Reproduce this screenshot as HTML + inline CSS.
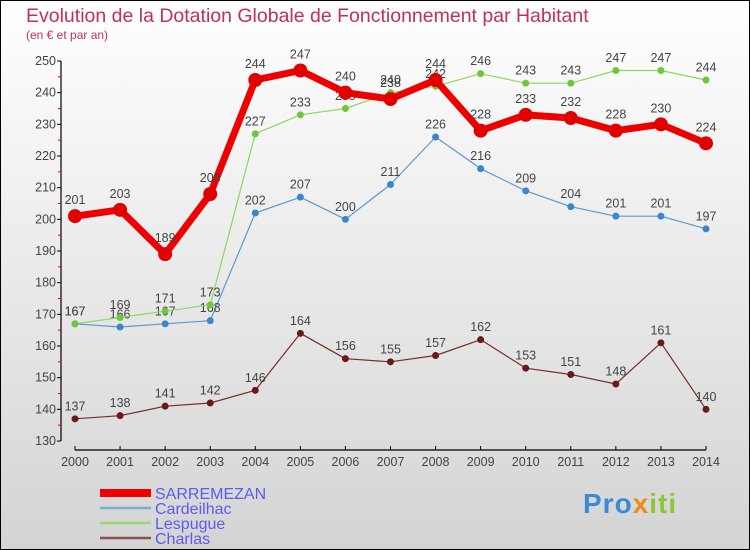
<!DOCTYPE html>
<html><head><meta charset="utf-8"><style>
html,body{margin:0;padding:0}
body{width:750px;height:550px;overflow:hidden;font-family:"Liberation Sans",sans-serif}
svg{display:block}
</style></head><body>
<svg id="chart" width="750" height="550" xmlns="http://www.w3.org/2000/svg">
<defs><linearGradient id="bg" x1="0" y1="0" x2="0" y2="1"><stop offset="0" stop-color="#ffffff"/><stop offset="1" stop-color="#d4d4d4"/></linearGradient></defs>
<rect x="0.5" y="0.5" width="749" height="549" fill="url(#bg)" stroke="#000"/>
<text x="26" y="22" font-size="19.5" fill="#c0305a">Evolution de la Dotation Globale de Fonctionnement par Habitant</text>
<text x="26" y="39" font-size="12" fill="#c0305a">(en € et par an)</text>
<g id="axes"></g><g id="series"></g><g id="legend"></g>
</svg>
<script>
const years=["2000","2001","2002","2003","2004","2005","2006","2007","2008","2009","2010","2011","2012","2013","2014"];
const yTicks=[130,140,150,160,170,180,190,200,210,220,230,240,250];
const sarremezan=[201,203,189,208,244,247,240,238,244,228,233,232,228,230,224];
const cardeilhac=[167,166,167,168,202,207,200,211,226,216,209,204,201,201,197];
const lespugue=[167,169,171,173,227,233,235,240,242,246,243,243,247,247,244];
const charlas=[137,138,141,142,146,164,156,155,157,162,153,151,148,161,140];
const NS="http://www.w3.org/2000/svg";
function X(i){return 75+i*(706-75)/14;}
function Y(v){return 441-(v-130)*(380/120);}
function mk(tag,attrs,parent,txt){const e=document.createElementNS(NS,tag);for(const k in attrs)e.setAttribute(k,attrs[k]);if(txt!==undefined)e.textContent=txt;parent.appendChild(e);return e;}
const ax=document.getElementById('axes');
let e=mk('line',{x1:61,y1:61,x2:61,y2:441,stroke:'#000','stroke-width':1.2},ax);


e=mk('line',{x1:75,y1:450,x2:706,y2:450,stroke:'#000','stroke-width':1.2},ax);


yTicks.forEach((v,i)=>{
 mk('line',{x1:57,y1:Y(v),x2:61,y2:Y(v),stroke:'#000'},ax);
 if(i<yTicks.length-1)mk('line',{x1:58,y1:Y(v+5),x2:61,y2:Y(v+5),stroke:'#e00'},ax);
 const t=mk('text',{x:56,y:Y(v)+4,'font-size':12.5,fill:'#444','text-anchor':'end'},ax,String(v));
 
 
});
years.forEach((y,i)=>{
 mk('line',{x1:X(i),y1:446,x2:X(i),y2:450,stroke:'#000'},ax);
 const t=mk('text',{x:X(i),y:466,'font-size':12.5,fill:'#444','text-anchor':'middle'},ax,y);
 
 
});
const sg=document.getElementById('series');
const defs=[
 {name:'charlas',data:charlas,color:'#7a2a2a',dot:'#6a1a1a',w:1.2,r:3.5},
 {name:'cardeilhac',data:cardeilhac,color:'#5a9ad0',dot:'#3a86c8',w:1.2,r:3.5},
 {name:'lespugue',data:lespugue,color:'#8cd860',dot:'#6cc838',w:1.2,r:3.5},
 {name:'sarremezan',data:sarremezan,color:'#ee0000',dot:'#e00000',w:7,r:7}
];
defs.forEach(s=>{
 const g=mk('g',{},sg);
 
 
 const pts=s.data.map((v,i)=>X(i)+','+Y(v)).join(' ');
 const l=mk('polyline',{points:pts,fill:'none',stroke:s.color,'stroke-width':s.w,'stroke-linejoin':'round'},g);
 
 
 s.data.forEach((v,i)=>{
  const c=mk('circle',{cx:X(i),cy:Y(v),r:s.r,fill:s.dot},g);
  
  
  const t=mk('text',{x:X(i),y:Y(v)-(s.r+5),'font-size':12.5,fill:'#444','text-anchor':'middle'},g,String(v));
  
  
 });
});
const lg=document.getElementById('legend');
const legendNames=['SARREMEZAN','Cardeilhac','Lespugue','Charlas'];
const legendColors=['#ee0000','#7aaed0','#99d870','#8a5050'];
legendNames.forEach((n,i)=>{
 const y=493+i*15;
 const g=mk('g',{},lg);
 
 
 mk('line',{x1:100,y1:y,x2:151,y2:y,stroke:legendColors[i],'stroke-width':i===0?8:2.5},g);
 mk('text',{x:155,y:y+6,'font-size':16,fill:'#5b5bf0'},g,n);
});
</script>
<div style="position:absolute;left:583px;top:488px;font:bold 28px 'Liberation Sans',sans-serif;letter-spacing:1px"><span style="color:#3a8ad8">Pro</span><span style="color:#f08a1a">x</span><span style="color:#8ac838">iti</span></div>
</body></html>
